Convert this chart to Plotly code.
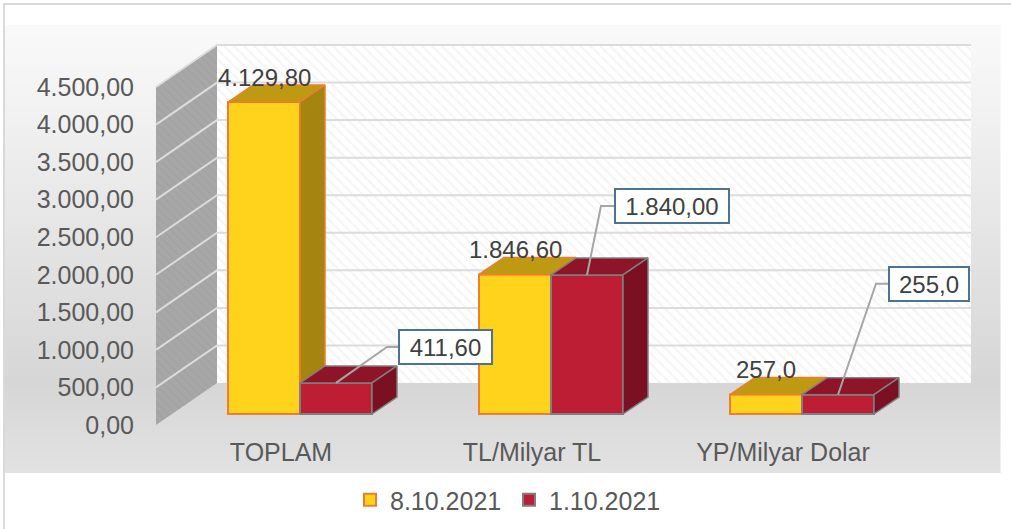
import plotly.graph_objects as go

categories = ["TOPLAM", "TL/Milyar TL", "YP/Milyar Dolar"]
series_a_name = "8.10.2021"
series_b_name = "1.10.2021"
series_a = [4129.80, 1846.60, 257.0]
series_b = [411.60, 1840.00, 255.0]
series_a_text = ["4.129,80", "1.846,60", "257,0"]
series_b_text = ["411,60", "1.840,00", "255,0"]
tick_values = [0, 500, 1000, 1500, 2000, 2500, 3000, 3500, 4000, 4500]
tick_labels = ["0,00", "500,00", "1.000,00", "1.500,00", "2.000,00", "2.500,00",
               "3.000,00", "3.500,00", "4.000,00", "4.500,00"]

W, H = 1011, 529
X0_PX, STEP_PX = 300, 251
AX_ZERO_PX, AX_SCALE = 425, 338 / 4500
BAR_ZERO_PX, BAR_SCALE = 414, 312 / 4129.8

def xu(px):
    return (px - X0_PX) / STEP_PX
def dxu(px):
    return px / STEP_PX
def yu(py):
    return (AX_ZERO_PX - py) / AX_SCALE
def dbar(px):
    return px / BAR_SCALE

BAR_W = dxu(72)
DEPTH_X = dxu(25)
DEPTH_Y = dbar(17)
WALL_L, WALL_B, WALL_R = xu(156), xu(217), xu(971)
WALL_DY = 42 / AX_SCALE

YELLOW = dict(front="#FFD21C", top="#BD9A12", side="#A5850F", line="#ED7D31")
RED = dict(front="#BE1E34", top="#8E1427", side="#7A1022", line="#7F7F7F")

fig = go.Figure()

# panel background
fig.add_trace(go.Scatter(
    x=[xu(5), xu(1000.5), xu(1000.5), xu(5), xu(5)],
    y=[yu(25), yu(25), yu(473), yu(473), yu(25)],
    mode="lines", line=dict(width=0), fill="toself",
    fillgradient=dict(type="vertical", colorscale=[
        [0, "#E2E2E2"], [0.2, "#D6D6D6"], [1, "#FAFAFA"]]),
    showlegend=False, hoverinfo="skip"))
# back wall
fig.add_trace(go.Scatter(
    x=[WALL_B, WALL_R, WALL_R, WALL_B, WALL_B],
    y=[yu(44), yu(44), yu(383), yu(383), yu(44)],
    mode="lines", line=dict(width=0), fill="toself", fillcolor="#FFFFFF",
    fillpattern=dict(shape="\\", fgcolor="#EAEAEA", bgcolor="#FFFFFF", size=7, solidity=0.3),
    showlegend=False, hoverinfo="skip"))
# side wall
fig.add_trace(go.Scatter(
    x=[WALL_L, WALL_B, WALL_B, WALL_L, WALL_L],
    y=[tick_values[-1], tick_values[-1] + WALL_DY, WALL_DY, 0, tick_values[-1]],
    mode="lines", line=dict(width=0), fill="toself", fillcolor="#A6A6A6",
    fillpattern=dict(shape="\\", fgcolor="#9E9E9E", bgcolor="#A7A7A7", size=6, solidity=0.3),
    showlegend=False, hoverinfo="skip"))
# gridlines on both walls
gx, gy = [], []
for v in tick_values:
    if v == 0:
        continue
    gx += [WALL_L, WALL_B, WALL_R, None]
    gy += [v, v + WALL_DY, v + WALL_DY, None]
fig.add_trace(go.Scatter(x=gx, y=gy, mode="lines", line=dict(color="#DCDCDC", width=2),
                         showlegend=False, hoverinfo="skip"))


def add_series(values, offset, colors, name, xa, ya):
    centers = [i + offset for i in range(len(values))]
    fig.add_trace(go.Bar(
        x=centers, y=values, width=BAR_W, name=name, xaxis=xa, yaxis=ya,
        marker=dict(color=colors["front"], line=dict(color=colors["line"], width=2)),
        hoverinfo="skip"))
    for c, v in zip(centers, values):
        x0, x1 = c - BAR_W / 2, c + BAR_W / 2
        fig.add_trace(go.Scatter(
            x=[x0, x1, x1 + DEPTH_X, x0 + DEPTH_X, x0],
            y=[v, v, v + DEPTH_Y, v + DEPTH_Y, v],
            mode="lines", line=dict(color=colors["line"], width=1.5), fill="toself",
            fillcolor=colors["top"], xaxis=xa, yaxis=ya, showlegend=False, hoverinfo="skip"))
        fig.add_trace(go.Scatter(
            x=[x1, x1 + DEPTH_X, x1 + DEPTH_X, x1, x1],
            y=[0, DEPTH_Y, v + DEPTH_Y, v, 0],
            mode="lines", line=dict(color=colors["line"], width=1.5), fill="toself",
            fillcolor=colors["side"], xaxis=xa, yaxis=ya, showlegend=False, hoverinfo="skip"))


add_series(series_a, -BAR_W / 2, YELLOW, series_a_name, "x2", "y2")
add_series(series_b, BAR_W / 2, RED, series_b_name, "x3", "y3")

# callout offsets (px): elbow dx, box-left dx, box-centre dx, rise, box width
CALLOUTS = [(51, 62, 109.5, 36, 95), (14, 27, 85, 69, 116), (38, 50, 91, 111, 82)]
annotations = []
for i, (v, txt, (dx1, dx2, dx3, rise, bw)) in enumerate(zip(series_b, series_b_text, CALLOUTS)):
    c = i + BAR_W / 2
    fig.add_trace(go.Scatter(
        x=[c, c + dxu(dx1), c + dxu(dx2)],
        y=[v, v + dbar(rise), v + dbar(rise)],
        mode="lines", line=dict(color="#A6A6A6", width=2),
        xaxis="x3", yaxis="y3", showlegend=False, hoverinfo="skip"))
    annotations.append(dict(
        x=c + dxu(dx3), y=v + dbar(rise), xref="x3", yref="y3", text=txt, showarrow=False,
        font=dict(family="Liberation Sans", size=24, color="#404040"),
        bgcolor="#FFFFFF", bordercolor="#4A7394", borderwidth=2, borderpad=0,
        width=bw - 4, height=32, align="center", valign="middle"))
for i, (v, txt) in enumerate(zip(series_a, series_a_text)):
    annotations.append(dict(
        x=i - BAR_W / 2, y=v, xref="x2", yref="y2", text=txt, showarrow=False,
        yshift=25, yanchor="middle",
        font=dict(family="Liberation Sans", size=24, color="#404040")))

AXIS_FONT = dict(family="Liberation Sans", size=25, color="#595959")
hidden = dict(visible=False, showgrid=False, zeroline=False, fixedrange=True)
x_range = [xu(0), xu(W)]
bar_range = [(BAR_ZERO_PX - H) / BAR_SCALE, BAR_ZERO_PX / BAR_SCALE]

fig.update_layout(
    width=W, height=H, autosize=False,
    margin=dict(l=0, r=0, t=0, b=0),
    paper_bgcolor="#FFFFFF", plot_bgcolor="rgba(0,0,0,0)",
    barmode="overlay", showlegend=True,
    xaxis=dict(range=x_range, domain=[0, 1], anchor="free", position=(H - 435) / H,
               tickmode="array", tickvals=[i - 19 / STEP_PX for i in range(len(categories))],
               ticktext=categories, tickfont=AXIS_FONT, showgrid=False, zeroline=False,
               showline=False, ticks="", fixedrange=True),
    yaxis=dict(range=[yu(H), yu(0)], domain=[0, 1], anchor="free", position=134 / W,
               tickmode="array", tickvals=tick_values, ticktext=tick_labels,
               tickfont=AXIS_FONT, showgrid=False, zeroline=False, showline=False,
               ticks="", fixedrange=True),
    xaxis2=dict(range=x_range, overlaying="x", anchor="y2", **hidden),
    yaxis2=dict(range=bar_range, overlaying="y", anchor="x2", **hidden),
    xaxis3=dict(range=x_range, overlaying="x", anchor="y3", **hidden),
    yaxis3=dict(range=bar_range, overlaying="y", anchor="x3", **hidden),
    legend=dict(orientation="h", x=350 / W, y=(H - 477) / H, xanchor="left", yanchor="top",
                entrywidth=114, entrywidthmode="pixels",
                bgcolor="rgba(0,0,0,0)", font=dict(family="Liberation Sans", size=25, color="#595959"),
                itemclick=False, itemdoubleclick=False),
    annotations=annotations,
    shapes=[dict(type="rect", xref="paper", yref="paper", x0=4 / W, x1=1.2, y0=-0.2, y1=(H - 4) / H,
                 line=dict(color="#D9D9D9", width=2), fillcolor="rgba(0,0,0,0)", layer="below")],
)

fig.write_html("out.html", config={"displayModeBar": False},
               post_script="document.body.style.margin='0';document.body.style.overflow='hidden';")
